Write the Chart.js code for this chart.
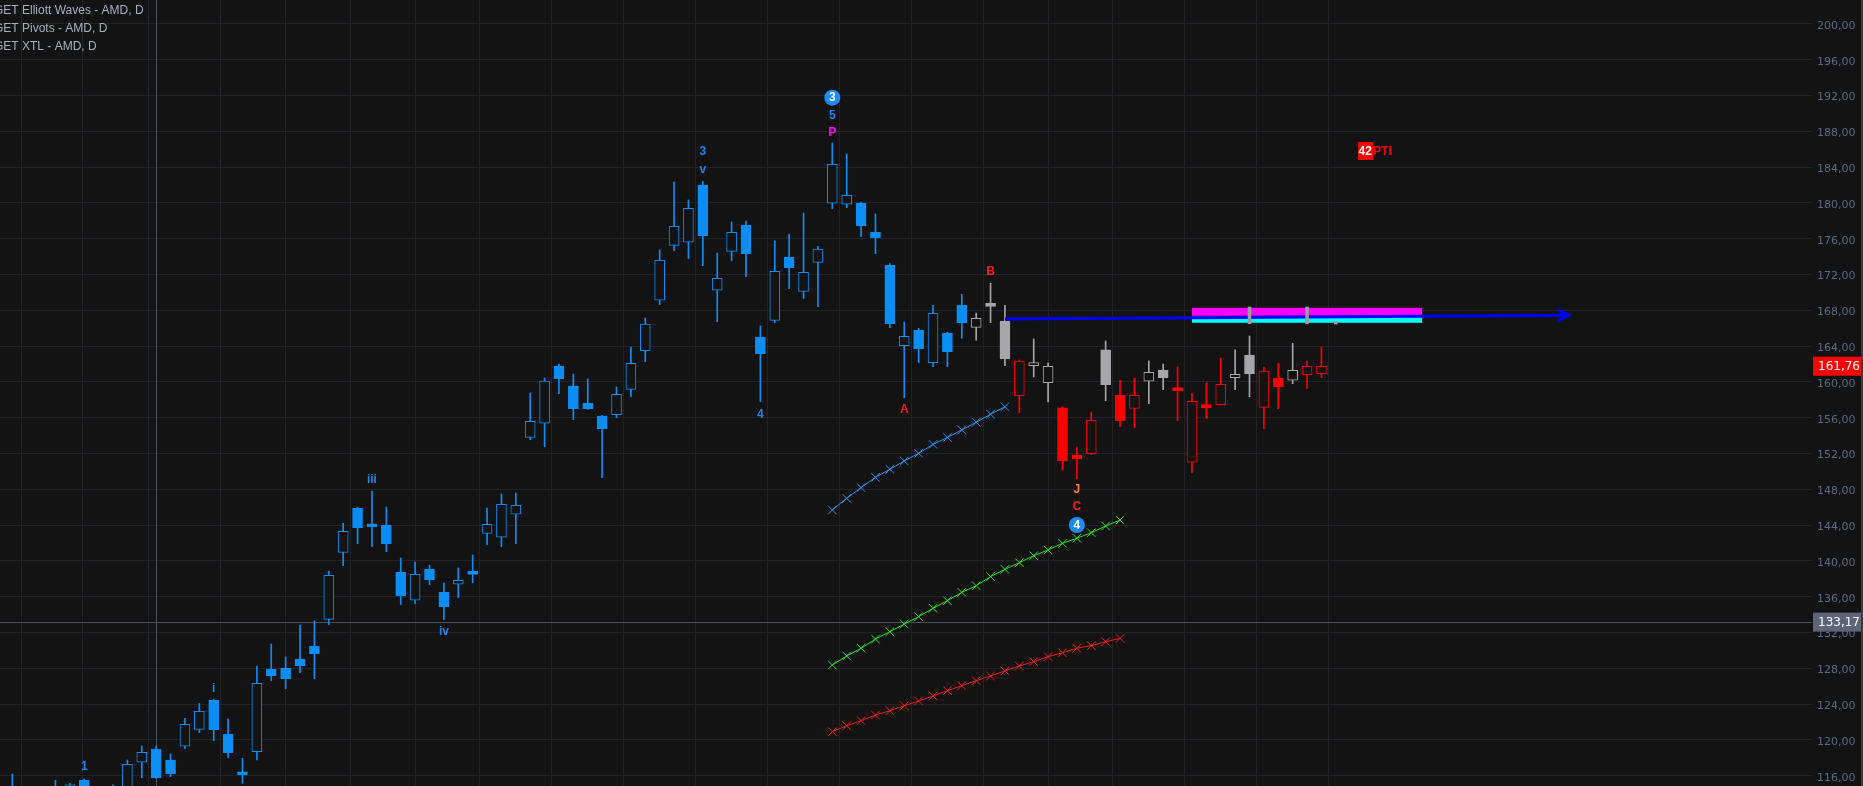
<!DOCTYPE html>
<html>
<head>
<meta charset="utf-8">
<title>AMD, D</title>
<script src="https://cdn.jsdelivr.net/npm/chart.js@4.4.1/dist/chart.umd.min.js"></script>
<style>
  html, body { margin: 0; padding: 0; background: #131313; overflow: hidden; }
  #wrap { width: 1863px; height: 786px; }
</style>
</head>
<body>
<div id="wrap"><canvas id="priceChart" width="1863" height="786"></canvas></div>
<script>
// Daily AMD bars, x = bar number
const opens = [
    114.2, 113.2, 113.8, 114.5, 113.5, 115.53, 114.4, 114.6, 114.2, 117.51,
    118.99, 117.77, 119.3, 121.19, 124.47, 120.67, 116.15, 118.69, 127.93, 128.04,
    129.05, 130.5, 133.48, 140.97, 145.89, 144.1, 143.99, 138.73, 135.61, 139.07,
    136.5, 137.4, 138.6, 143.09, 142.65, 145.22, 153.82, 155.39, 161.79, 159.55,
    157.62, 156.2, 156.35, 159.18, 163.5, 169.13, 175.27, 175.61, 182.01, 170.25,
    174.6, 177.54, 165.03, 166.89, 173.97, 170.13, 173.37, 179.97, 179.86, 179.97,
    176.72, 173.07, 164.06, 165.81, 162.16, 165.47, 168.57, 166.11, 168.55, 166.8,
    158.47, 161.82, 159.92, 157.1, 151.84, 151.99, 163.58, 158.55, 157.06, 160.08,
    161.34, 159.22, 151.03, 157.32, 157.46, 160.48, 163.02, 157.17, 160.41, 160.19,
    160.82, 160.93
];
const highs = [
    116.2, 114.3, 114.5, 115.5, 115.16, 115.64, 114.7, 115.0, 117.76, 119.33,
    119.33, 118.44, 122.42, 124.1, 124.55, 122.35, 117.95, 128.27, 130.73, 129.27,
    132.85, 133.3, 138.88, 144.21, 146.03, 147.82, 146.03, 140.34, 139.89, 139.55,
    137.54, 139.22, 140.67, 145.92, 147.49, 147.6, 158.77, 160.45, 162.01, 160.89,
    160.34, 156.28, 159.44, 163.91, 167.15, 174.75, 182.35, 180.34, 182.42, 174.41,
    177.88, 177.99, 166.26, 175.75, 176.54, 178.88, 175.16, 186.7, 185.47, 180.11,
    178.77, 173.22, 166.7, 166.0, 168.57, 165.55, 169.8, 167.71, 171.03, 168.57,
    162.46, 164.8, 162.12, 157.21, 152.74, 156.65, 164.58, 160.22, 160.45, 162.35,
    162.01, 161.68, 158.74, 159.89, 162.68, 163.58, 165.14, 161.64, 162.09, 164.32,
    162.35, 163.91
];
const lows = [
    112.9, 112.1, 112.8, 113.0, 112.9, 113.5, 112.5, 113.0, 113.8, 115.79,
    115.7, 115.9, 119.03, 120.82, 119.92, 118.02, 115.16, 117.77, 126.63, 125.73,
    127.52, 126.85, 132.88, 139.48, 141.93, 141.6, 141.04, 135.12, 135.23, 137.35,
    133.44, 135.9, 137.58, 141.82, 141.6, 141.93, 153.56, 152.77, 158.69, 155.79,
    156.95, 149.31, 156.01, 158.36, 162.27, 168.64, 174.67, 173.78, 172.99, 166.74,
    173.56, 171.77, 157.8, 166.63, 170.42, 169.31, 168.41, 179.36, 179.48, 176.24,
    174.34, 166.07, 158.25, 162.16, 161.71, 161.71, 164.88, 164.66, 166.63, 161.82,
    156.54, 160.56, 157.77, 150.17, 149.16, 151.88, 157.91, 155.01, 154.9, 157.58,
    159.14, 155.68, 149.87, 155.9, 157.4, 159.14, 158.36, 154.79, 157.02, 159.81,
    159.25, 160.48
];
const closes = [
    113.5, 113.8, 113.1, 113.9, 115.0, 114.0, 113.0, 113.9, 117.28, 118.62,
    115.79, 116.24, 121.75, 123.2, 121.15, 118.58, 116.1, 126.33, 127.18, 126.85,
    128.3, 129.64, 138.4, 143.32, 143.72, 143.83, 141.93, 136.12, 138.51, 137.91,
    134.9, 137.84, 138.5, 144.1, 146.33, 146.22, 155.61, 160.11, 160.37, 157.02,
    157.02, 154.78, 158.62, 162.09, 166.48, 173.6, 177.4, 179.41, 176.35, 171.58,
    176.72, 174.34, 163.16, 172.37, 172.77, 172.26, 174.86, 184.32, 180.86, 177.46,
    176.12, 166.51, 165.1, 163.72, 167.67, 163.39, 166.63, 167.12, 168.45, 162.58,
    162.35, 162.09, 161.75, 151.17, 151.4, 155.72, 159.7, 155.68, 158.51, 161.08,
    160.48, 159.03, 157.84, 157.13, 159.74, 160.86, 160.93, 161.23, 159.48, 161.3,
    161.75, 161.76
];
// 0 = elliott wave, 1 = neutral, 2 = bearish
const barState = [
    0, 0, 0, 0, 0, 0, 0, 0, 0, 0, 0, 0, 0, 0, 0, 0, 0, 0, 0, 0,
    0, 0, 0, 0, 0, 0, 0, 0, 0, 0, 0, 0, 0, 0, 0, 0, 0, 0, 0, 0,
    0, 0, 0, 0, 0, 0, 0, 0, 0, 0, 0, 0, 0, 0, 0, 0, 0, 0, 0, 0,
    0, 0, 0, 0, 0, 0, 0, 1, 1, 1, 2, 1, 1, 2, 2, 2, 1, 2, 2, 1,
    1, 2, 2, 2, 2, 1, 1, 2, 2, 1, 2, 2
];

const weekStarts = [2.74, 7, 12, 17, 21, 26, 30, 35, 40, 45, 50, 55, 60, 65, 70, 74, 79, 84, 89];
const priceTicks = [116, 120, 124, 128, 132, 136, 140, 144, 148, 152, 156, 160, 164, 168, 172, 176, 180, 184, 188, 192, 196, 200];

// XTL channels, first bar 57
const xtlStart = 57;
const xtlUpper = [145.7, 147.0, 148.2, 149.35, 150.25, 151.17, 152.03, 153.03, 153.8, 154.64, 155.5, 156.4, 157.24];
const xtlMiddle = [128.38, 129.39, 130.25, 131.28, 132.1, 132.96, 133.78, 134.72, 135.56, 136.5, 137.24,
    138.25, 139.07, 139.81, 140.59, 141.23, 141.98, 142.54, 143.16, 143.91, 144.58];
const xtlLower = [120.93, 121.6, 122.16, 122.79, 123.27, 123.83, 124.36, 124.92, 125.51, 126.07, 126.63,
    127.15, 127.71, 128.27, 128.75, 129.31, 129.75, 130.25, 130.54, 130.98, 131.36];

// pivot zone + projection
const pivotFrom = 82, pivotTo = 98;
const pivotUpper = 167.84, pivotLower = 166.98;
const projBars = [69, 108.2];
const projPrices = [167.04, 167.45];
const pivotMarkBars = [86, 90, 92];
const pivotMarkTop = [168.38, 168.38, 166.74];
const pivotMarkBottom = [166.51, 166.51, 166.48];

const waveLabels = [
    { i: 5, p: 117.0, t: '1', k: 'w' },
    { i: 14, p: 125.78, t: 'i', k: 'w' },
    { i: 25, p: 149.05, t: 'iii', k: 'w' },
    { i: 30, p: 132.1, t: 'iv', k: 'w' },
    { i: 48, p: 185.73, t: '3', k: 'w' },
    { i: 48, p: 183.69, t: 'v', k: 'w' },
    { i: 52, p: 156.39, t: '4', k: 'w' },
    { i: 57, p: 189.75, t: '5', k: 'w' },
    { i: 57, p: 187.9, t: 'P', k: 'p' },
    { i: 62, p: 156.87, t: 'A', k: 'r' },
    { i: 68, p: 172.29, t: 'B', k: 'r' },
    { i: 74, p: 147.93, t: 'J', k: 'j' },
    { i: 74, p: 146.07, t: 'C', k: 'r' }
];
const waveCircles = [
    { i: 57, p: 191.77, t: '3' },
    { i: 74, p: 144.02, t: '4' }
];
const ptiBar = 93.55, ptiPrice = 185.81;
const lastPrice = 161.76;
const cursorBar = 10, cursorPrice = 133.17;

const BG = '#131313';
const stateColors = ['#0a8ef5', '#a6a6ab', '#ff0000'];
const labelColors = { w: '#1b86ea', p: '#ff00ff', r: '#ff1a1a', j: '#ff7a45' };

function fmt(v) {
    return v.toFixed(2).replace('.', ',');
}

const bars = opens.map((o, i) => i);
const barColor = bars.map(i => stateColors[barState[i]]);

const overlay = {
    id: 'overlay',
    beforeDatasetsDraw(chart) {
        const { ctx, chartArea: a, scales: { x, y } } = chart;
        const cx = Math.round(x.getPixelForValue(cursorBar)) + 0.5;
        const cy = Math.round(y.getPixelForValue(cursorPrice)) + 0.5;
        ctx.save();
        ctx.strokeStyle = '#4d5060';
        ctx.lineWidth = 1;
        ctx.beginPath();
        ctx.moveTo(cx, a.top);
        ctx.lineTo(cx, a.bottom);
        ctx.moveTo(a.left, cy);
        ctx.lineTo(a.right, cy);
        ctx.stroke();
        ctx.restore();
    },
    afterDatasetsDraw(chart) {
        const { ctx, scales: { x, y } } = chart;
        ctx.save();

        // arrow head on projection
        const tx = x.getPixelForValue(projBars[1]);
        const ty = y.getPixelForValue(projPrices[1]);
        ctx.strokeStyle = '#0000ff';
        ctx.lineWidth = 3;
        ctx.beginPath();
        ctx.moveTo(tx - 11, ty - 5.5);
        ctx.lineTo(tx, ty);
        ctx.lineTo(tx - 11, ty + 5.5);
        ctx.stroke();

        // wave labels
        ctx.textAlign = 'center';
        ctx.textBaseline = 'middle';
        ctx.font = 'bold 12px "Liberation Sans", Arial, sans-serif';
        waveLabels.forEach(l => {
            ctx.fillStyle = labelColors[l.k];
            ctx.fillText(l.t, x.getPixelForValue(l.i), y.getPixelForValue(l.p));
        });
        waveCircles.forEach(c => {
            const px = x.getPixelForValue(c.i), py = y.getPixelForValue(c.p);
            ctx.fillStyle = '#1a8cff';
            ctx.beginPath();
            ctx.arc(px, py, 8, 0, Math.PI * 2);
            ctx.fill();
            ctx.fillStyle = '#ffffff';
            ctx.fillText(c.t, px, py + 0.5);
        });

        // 42 PTI tag
        const bx = x.getPixelForValue(ptiBar), by = y.getPixelForValue(ptiPrice);
        ctx.fillStyle = '#ff0000';
        ctx.fillRect(bx, by - 9, 15, 18);
        ctx.textAlign = 'left';
        ctx.fillStyle = '#ffffff';
        ctx.fillText('42', bx + 0.5, by + 0.5);
        ctx.fillStyle = '#ff0000';
        ctx.fillText('PTI', bx + 15, by + 0.5);
        ctx.restore();
    },
    afterDraw(chart) {
        const { ctx, chartArea: a, scales: { y } } = chart;
        ctx.save();
        // price boxes on the axis
        ctx.font = '12px "DejaVu Sans", sans-serif';
        ctx.textBaseline = 'middle';
        ctx.textAlign = 'left';
        const boxes = [
            { v: lastPrice, bg: '#ff0000' },
            { v: cursorPrice, bg: '#5d6478' }
        ];
        boxes.forEach(b => {
            const py = y.getPixelForValue(b.v);
            ctx.fillStyle = b.bg;
            ctx.fillRect(a.right + 1, py - 9.5, 49, 19);
            ctx.fillStyle = '#ffffff';
            ctx.fillText(fmt(b.v), a.right + 6, py + 0.5);
        });
        ctx.fillStyle = '#3c3c40';
        ctx.fillRect(1861, 0, 2, 786);

        // indicator legend
        ctx.font = '12px "Liberation Sans", Arial, sans-serif';
        ctx.fillStyle = '#a9aec0';
        ctx.fillText('GET Elliott Waves - AMD, D', -6, 11);
        ctx.fillText('GET Pivots - AMD, D', -6, 29);
        ctx.fillText('GET XTL - AMD, D', -6, 47);
        ctx.restore();
    }
};

function xtlSet(values, color) {
    return {
        type: 'line',
        data: values.map((v, k) => ({ x: xtlStart + k, y: v })),
        borderColor: color,
        borderWidth: 1,
        pointStyle: 'crossRot',
        pointRadius: 6,
        pointBorderColor: color,
        pointBorderWidth: 1,
        pointBackgroundColor: color,
        order: 8
    };
}

const ctx = document.getElementById('priceChart').getContext('2d');
const chart = new Chart(ctx, {
    type: 'bar',
    data: {
        datasets: [
            {
                // wicks
                data: bars.map(i => ({ x: i, y: [lows[i], highs[i]] })),
                backgroundColor: barColor,
                barThickness: 1,
                grouped: false,
                order: 10
            },
            {
                // bodies
                data: bars.map(i => ({ x: i, y: [opens[i], closes[i]] })),
                backgroundColor: bars.map(i => closes[i] >= opens[i] ? BG : barColor[i]),
                borderColor: barColor,
                borderWidth: 1,
                borderSkipped: false,
                barThickness: 10,
                minBarLength: 3,
                grouped: false,
                order: 9
            },
            xtlSet(xtlUpper, '#2196f3'),
            xtlSet(xtlMiddle, '#22e022'),
            xtlSet(xtlLower, '#ee1c1c'),
            {
                type: 'line',
                data: [{ x: pivotFrom, y: pivotUpper }, { x: pivotTo, y: pivotUpper }],
                borderColor: '#ff00ff',
                borderWidth: 8,
                borderCapStyle: 'butt',
                pointRadius: 0,
                order: 7
            },
            {
                type: 'line',
                data: [{ x: pivotFrom, y: pivotLower }, { x: pivotTo, y: pivotLower }],
                borderColor: '#00ffff',
                borderWidth: 6.5,
                borderCapStyle: 'butt',
                pointRadius: 0,
                order: 7
            },
            {
                type: 'line',
                data: projBars.map((b, k) => ({ x: b, y: projPrices[k] })),
                borderColor: '#0000ff',
                borderWidth: 3,
                pointRadius: 0,
                order: 6
            },
            {
                data: pivotMarkBars.map((b, k) => ({ x: b, y: [pivotMarkBottom[k], pivotMarkTop[k]] })),
                backgroundColor: '#9c9ca0',
                barThickness: 3,
                grouped: false,
                order: 5
            }
        ]
    },
    options: {
        responsive: false,
        devicePixelRatio: 1,
        animation: false,
        layout: { padding: 0, autoPadding: false },
        plugins: {
            legend: { display: false },
            tooltip: { enabled: false }
        },
        scales: {
            x: {
                type: 'linear',
                min: -0.855,
                max: 125.1,
                offset: false,
                grid: { color: '#222328', drawTicks: false, tickLength: 0 },
                border: { display: false },
                ticks: { display: false },
                afterBuildTicks: s => { s.ticks = weekStarts.map(v => ({ value: v })); },
                afterFit: s => { s.height = 0; }
            },
            y: {
                position: 'right',
                min: 114.86,
                max: 202.68,
                grid: { color: '#222328', drawTicks: false, tickLength: 0 },
                border: { display: false },
                ticks: {
                    color: '#5b6a88',
                    padding: 5,
                    labelOffset: 2,
                    font: { family: '"DejaVu Sans", sans-serif', size: 11 },
                    callback: v => fmt(v)
                },
                afterBuildTicks: s => { s.ticks = priceTicks.map(v => ({ value: v })); },
                afterFit: s => { s.width = 51; s.paddingTop = 0; s.paddingBottom = 0; }
            }
        }
    },
    plugins: [overlay]
});
</script>
</body>
</html>
